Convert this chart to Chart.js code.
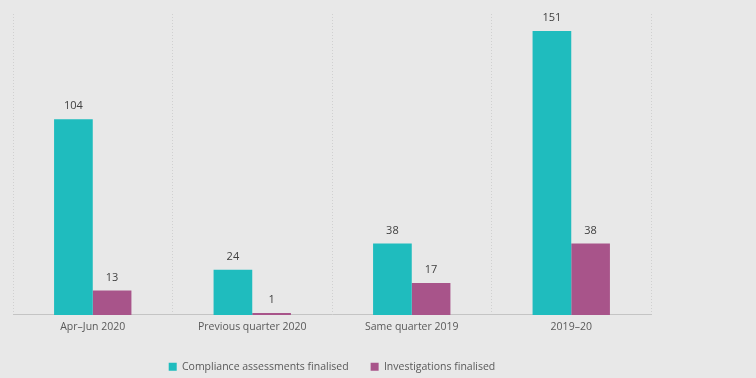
<!DOCTYPE html>
<html>
<head>
<meta charset="utf-8">
<script src="https://cdn.jsdelivr.net/npm/chart.js@4/dist/chart.umd.min.js"></script>
<style>
html,body{margin:0;padding:0;background:#e8e8e8;}
#wrap{width:756px;height:378px;position:relative;}
</style>
</head>
<body>
<div id="wrap"><canvas id="c" width="756" height="378"></canvas></div>
<script>
const categories = ["Apr\u2013Jun 2020", "Previous quarter 2020", "Same quarter 2019", "2019\u201320"];
const complianceValues = [104, 24, 38, 151];
const investigationValues = [13, 1, 17, 38];
const seriesNames = ["Compliance assessments finalised", "Investigations finalised"];

const FONT = "'Open Sans', 'DejaVu Sans', sans-serif";

const labelPlugin = {
  id: 'valueLabels',
  afterDatasetsDraw(chart) {
    const ctx = chart.ctx;
    ctx.save();
    ctx.font = "11px " + FONT;
    ctx.fillStyle = '#404040';
    ctx.textAlign = 'center';
    ctx.textBaseline = 'middle';
    chart.data.datasets.forEach((ds, i) => {
      const meta = chart.getDatasetMeta(i);
      meta.data.forEach((bar, j) => {
        ctx.fillText(String(ds.data[j]), bar.x, bar.y - 13);
      });
    });
    ctx.restore();
  }
};

new Chart(document.getElementById('c'), {
  type: 'bar',
  data: {
    labels: categories,
    datasets: [
      { label: seriesNames[0], data: complianceValues, backgroundColor: '#1fbcbe' },
      { label: seriesNames[1], data: investigationValues, backgroundColor: '#a8548a' }
    ]
  },
  options: {
    responsive: false,
    animation: false,
    devicePixelRatio: 1,
    layout: { padding: { left: 13, right: 105, top: 14, bottom: -4 } },
    datasets: { bar: { categoryPercentage: 0.485, barPercentage: 1 } },
    scales: {
      x: {
        grid: { display: true, offset: true, color: '#d0d0d0', lineWidth: 1, drawTicks: false },
        border: { display: true, color: '#c4c4c4', dash: [1, 2] },
        ticks: { color: '#595959', font: { family: FONT, size: 10.5 }, padding: 6 }
      },
      y: {
        display: false,
        min: 0,
        max: 160
      }
    },
    plugins: {
      legend: {
        position: 'bottom',
        labels: {
          boxWidth: 8, boxHeight: 8, padding: 22,
          color: '#595959',
          font: { family: FONT, size: 10.5 }
        }
      },
      tooltip: { enabled: false }
    }
  },
  plugins: [labelPlugin, {
    id: 'bg',
    beforeDraw(chart) {
      const ctx = chart.ctx;
      ctx.save();
      ctx.fillStyle = '#e8e8e8';
      ctx.fillRect(0, 0, chart.width, chart.height);
      ctx.restore();
    }
  }]
});
</script>
</body>
</html>
